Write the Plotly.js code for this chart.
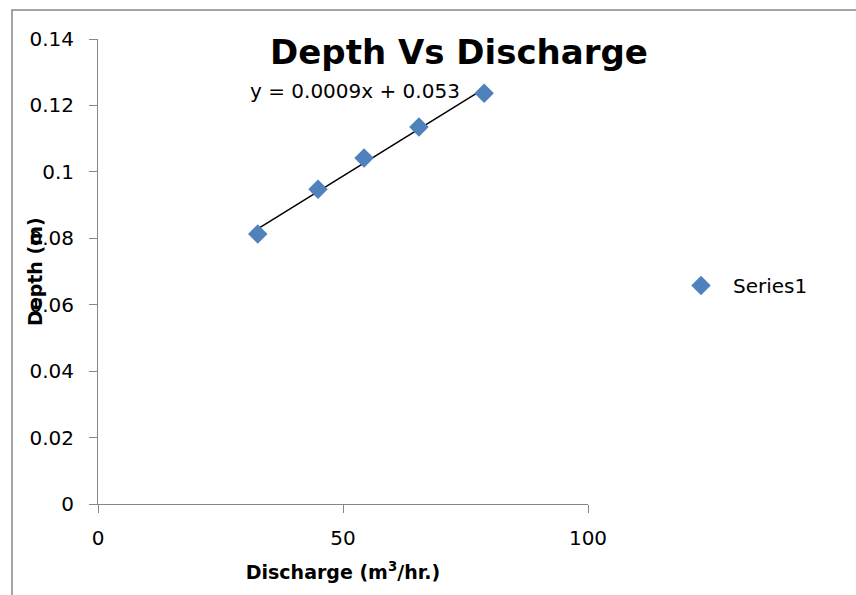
<!DOCTYPE html>
<html>
<head>
<meta charset="utf-8">
<script src="https://cdn.plot.ly/plotly-3.0.1.min.js"></script>
<style>html,body{margin:0;padding:0;background:#fff;}#chart{width:856px;height:595px;}</style>
</head>
<body>
<div id="chart"></div>
<script>
// Data
const discharge = [32.6, 44.9, 54.3, 65.5, 78.8];
const depth = [0.0813, 0.0948, 0.1042, 0.1135, 0.1237];
const seriesName = "Series1";
const equationText = "y = 0.0009x + 0.053";
const xTicks = [0, 50, 100];
const yTicks = [0, 0.02, 0.04, 0.06, 0.08, 0.1, 0.12, 0.14];

// Linear least-squares trendline from the data
const n = discharge.length;
const mx = discharge.reduce((a, b) => a + b, 0) / n;
const my = depth.reduce((a, b) => a + b, 0) / n;
let sxy = 0, sxx = 0;
for (let i = 0; i < n; i++) { sxy += (discharge[i] - mx) * (depth[i] - my); sxx += (discharge[i] - mx) ** 2; }
const slope = sxy / sxx, intercept = my - slope * mx;
const trendX = [Math.min(...discharge), Math.max(...discharge)];
const trendY = trendX.map(x => slope * x + intercept);

const FONT = "DejaVu Sans, Liberation Sans, sans-serif";
const axisGray = "#868686";

const traces = [
  {
    x: trendX, y: trendY, type: "scatter", mode: "lines",
    line: {color: "#000000", width: 1.5}, showlegend: false, hoverinfo: "skip"
  },
  {
    x: discharge, y: depth, type: "scatter", mode: "markers", name: seriesName,
    marker: {symbol: "diamond", size: 15, color: "#4F81BD"}
  }
];

const layout = {
  width: 856, height: 595,
  margin: {l: 98, r: 268, t: 39, b: 91},
  paper_bgcolor: "#ffffff", plot_bgcolor: "#ffffff",
  font: {family: FONT, size: 20, color: "#000000"},
  title: {
    text: "<b>Depth Vs Discharge</b>",
    font: {family: FONT, size: 34, color: "#000000"},
    x: 459 / 856, xref: "container", xanchor: "center",
    y: 1 - 52 / 595, yref: "container", yanchor: "middle"
  },
  xaxis: {
    range: [0, 100], tickvals: xTicks, ticktext: xTicks.map(String),
    showgrid: false, zeroline: false, showline: true, linecolor: axisGray, linewidth: 1,
    ticks: "outside", ticklen: 8, tickcolor: axisGray, ticklabelstandoff: 8,
    tickfont: {family: FONT, size: 20, color: "#000000"},
    title: {text: "<b>Discharge (m<sup>3</sup>/hr.)</b>", font: {family: FONT, size: 19, color: "#000000"}, standoff: 16},
    automargin: false, fixedrange: true
  },
  yaxis: {
    range: [0, 0.14], tickvals: yTicks, ticktext: yTicks.map(v => String(v)),
    showgrid: false, zeroline: false, showline: true, linecolor: axisGray, linewidth: 1,
    ticks: "outside", ticklen: 8, tickcolor: axisGray, ticklabelstandoff: 11,
    tickfont: {family: FONT, size: 20, color: "#000000"},
    automargin: false, fixedrange: true
  },
  legend: {
    x: (669 - 98) / 490, xanchor: "left", y: 0.47, yanchor: "middle",
    itemwidth: 54,
    font: {family: FONT, size: 20, color: "#000000"},
    bgcolor: "rgba(0,0,0,0)", borderwidth: 0
  },
  annotations: [
    {
      text: equationText, xref: "x", yref: "y", x: 52.4, y: 0.1243,
      xanchor: "center", yanchor: "middle", showarrow: false,
      font: {family: FONT, size: 20, color: "#000000"}
    },
    {
      text: "<b>Depth (m)</b>", xref: "paper", yref: "paper",
      x: (35 - 98) / 490, y: (504 - 272) / 465, textangle: -90,
      xanchor: "center", yanchor: "middle", showarrow: false,
      font: {family: FONT, size: 19, color: "#000000"}
    }
  ],
  shapes: [{
    type: "rect", xref: "paper", yref: "paper",
    x0: (12 - 98) / 490, x1: 2, y0: -1, y1: (504 - 10) / 465,
    line: {color: axisGray, width: 1.5}, fillcolor: "rgba(0,0,0,0)", layer: "below"
  }]
};

Plotly.newPlot("chart", traces, layout, {displayModeBar: false, staticPlot: true});
</script>
</body>
</html>
